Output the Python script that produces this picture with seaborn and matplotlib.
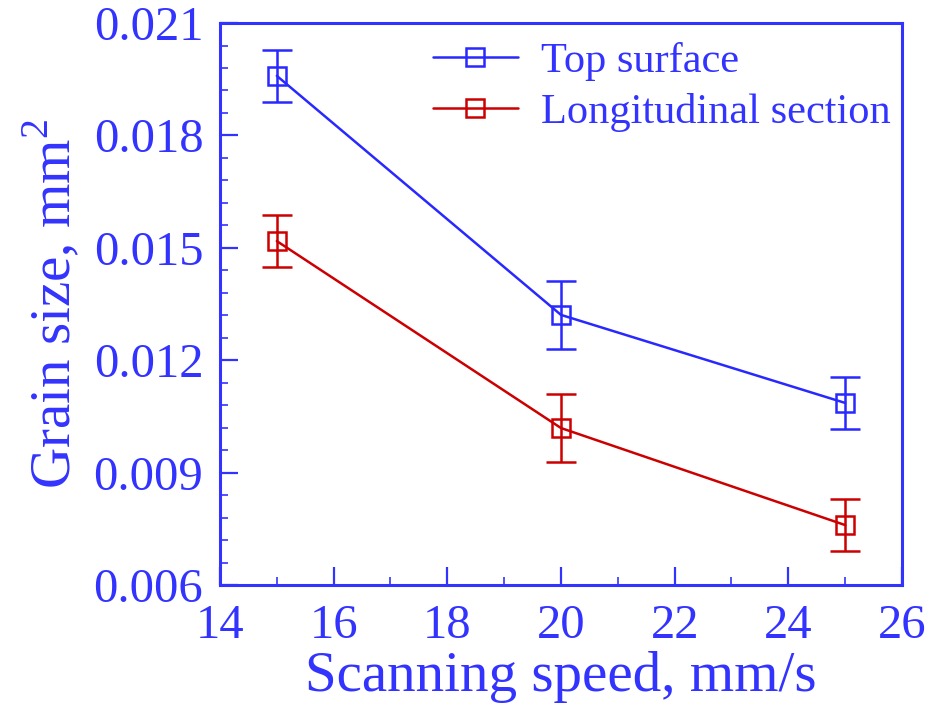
import matplotlib
matplotlib.use("Agg")
import matplotlib.pyplot as plt
import seaborn as sns
import pandas as pd
from matplotlib.ticker import MultipleLocator, FormatStrFormatter
from matplotlib.lines import Line2D

speed = [15, 20, 25]
top_surface = [0.01959, 0.01321, 0.01086]
top_err = [0.0007, 0.0009, 0.0007]
longitudinal = [0.01518, 0.01019, 0.0076]
long_err = [0.0007, 0.0009, 0.0007]
series_names = ["Top surface", "Longitudinal section"]

sns.set_theme(style="white")
plt.rcParams['font.family'] = ['Liberation Serif', 'DejaVu Serif']
plt.rcParams['mathtext.fontset'] = 'custom'
plt.rcParams['mathtext.rm'] = 'Liberation Serif'

BLUE = '#3333FF'
LBLUE = '#2828FF'
RED = '#CC0000'

df = pd.DataFrame({
    'speed': speed * 2,
    'size': top_surface + longitudinal,
    'err': top_err + long_err,
    'series': [series_names[0]] * 3 + [series_names[1]] * 3,
})

fig = plt.figure(figsize=(9.27, 7.15), dpi=100)
ax = fig.add_axes([0.2373, 0.1818, 0.9730 - 0.2373, 0.9678 - 0.1818])

palette = {series_names[0]: LBLUE, series_names[1]: RED}

sns.lineplot(data=df, x='speed', y='size', hue='series', palette=palette,
             hue_order=series_names, marker='s', markersize=13.5,
             linewidth=1.8, ax=ax, legend=False, zorder=3)
main_lines = list(ax.lines)
for line, name in zip(main_lines, series_names):
    line.set_markeredgecolor(palette[name])
    line.set_markerfacecolor('none')
    line.set_markeredgewidth(1.8)

for name in series_names:
    sub = df[df.series == name]
    ax.errorbar(sub['speed'], sub['size'], yerr=sub['err'], fmt='none',
                ecolor=palette[name], elinewidth=1.8, capsize=10.5, capthick=1.8, zorder=2)

ax.set_xlim(14, 26)
ax.set_ylim(0.006, 0.021)
ax.xaxis.set_major_locator(MultipleLocator(2))
ax.xaxis.set_minor_locator(MultipleLocator(1))
ax.yaxis.set_major_locator(MultipleLocator(0.003))
ax.yaxis.set_minor_locator(MultipleLocator(0.0006))
ax.yaxis.set_major_formatter(FormatStrFormatter('%.3f'))

ax.tick_params(which='major', direction='in', length=13, width=1.6, color=BLUE,
               labelcolor=BLUE, labelsize=35)
ax.tick_params(axis='y', which='major', pad=12)
ax.tick_params(axis='x', which='major', pad=14)
ax.tick_params(which='minor', direction='in', length=6, width=1.2, color=BLUE)
ax.tick_params(axis='x', which='both', bottom=True, top=False)
ax.tick_params(axis='y', which='both', left=True, right=False)
for s in ax.spines.values():
    s.set_color(BLUE)
    s.set_linewidth(2.2)

ax.set_xlabel('Scanning speed, mm/s', color=BLUE, fontsize=41, labelpad=2)
ax.set_ylabel('Grain size, mm$^2$', color=BLUE, fontsize=41, labelpad=8)

handles = [Line2D([], [], color=palette[n], marker='s', markersize=13.5,
                  markerfacecolor='none', markeredgewidth=1.8, linewidth=1.8)
           for n in series_names]
leg = ax.legend(handles, series_names, loc='upper right', frameon=False,
                fontsize=30.5, handlelength=2.0, borderaxespad=0.2,
                labelspacing=0.28, handletextpad=0.55, bbox_to_anchor=(1.021, 1.012))
for t in leg.get_texts():
    t.set_color(BLUE)

fig.savefig('out.png', dpi=100)
